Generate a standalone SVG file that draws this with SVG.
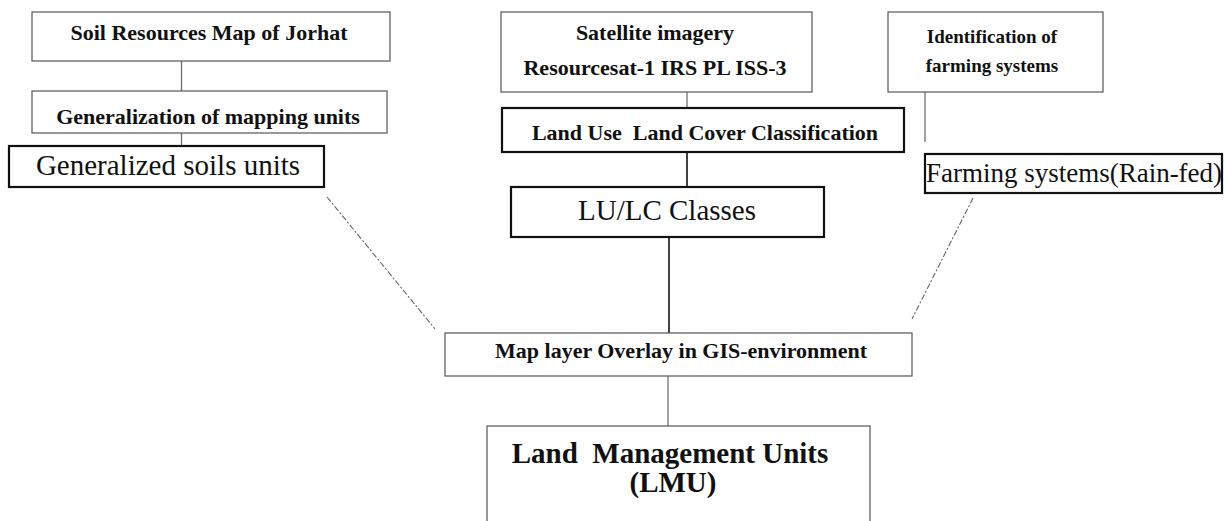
<svg xmlns="http://www.w3.org/2000/svg" width="1224" height="521" viewBox="0 0 1224 521">
<style>
  .thin { fill: #ffffff; stroke: #555555; stroke-width: 1.2; }
  .thick { fill: #ffffff; stroke: #111111; stroke-width: 2.2; }
  .b { font-family: "Liberation Serif", "Times New Roman", serif; font-weight: bold; fill: #111111; text-anchor: middle; }
  .r { font-family: "Liberation Serif", "Times New Roman", serif; fill: #111111; text-anchor: middle; }
  .c-grey { stroke: #666666; stroke-width: 1.2; fill: none; }
  .c-dash { stroke: #666666; stroke-width: 1.1; fill: none; stroke-dasharray: 6 2 2 2; }
  .c-black { stroke: #111111; stroke-width: 1.6; fill: none; }
</style>
<rect width="1224" height="521" fill="#ffffff"/>
<g id="connectors">
  <line class="c-grey" x1="181.5" y1="61" x2="181.5" y2="91"/>
  <line class="c-grey" x1="181.5" y1="133" x2="181.5" y2="146"/>
  <line class="c-grey" x1="687" y1="92" x2="687" y2="108"/>
  <line class="c-black" x1="687" y1="152" x2="687" y2="187"/>
  <line class="c-grey" x1="925" y1="92" x2="925" y2="142"/>
  <line class="c-black" x1="669" y1="237" x2="669" y2="333"/>
  <line class="c-grey" x1="668" y1="376" x2="668" y2="426"/>
  <line class="c-dash" x1="327" y1="197" x2="435" y2="329"/>
  <line class="c-dash" x1="973" y1="198" x2="912" y2="319"/>
</g>
<g id="soil-map">
  <rect class="thin" x="32" y="12" width="358" height="49"/>
  <text class="b" x="209" y="40" font-size="22">Soil Resources Map of Jorhat</text>
</g>
<g id="generalization">
  <rect class="thin" x="32" y="91" width="355" height="42"/>
  <text class="b" x="208" y="124" font-size="22">Generalization of mapping units</text>
</g>
<g id="generalized-soils">
  <rect class="thick" x="9" y="146" width="315" height="41"/>
  <text class="r" x="168" y="175" font-size="29">Generalized soils units</text>
</g>
<g id="satellite">
  <rect class="thin" x="501" y="12" width="311" height="80"/>
  <text class="b" x="655" y="40" font-size="22">Satellite imagery</text>
  <text class="b" x="655" y="75" font-size="22">Resourcesat-1 IRS PL ISS-3</text>
</g>
<g id="lulc-classification">
  <rect class="thick" x="502" y="108" width="402" height="44"/>
  <text class="b" x="705" y="140" font-size="22" style="white-space:pre">Land Use  Land Cover Classification</text>
</g>
<g id="lulc-classes">
  <rect class="thick" x="511" y="187" width="313" height="50"/>
  <text class="r" x="667" y="220" font-size="29">LU/LC Classes</text>
</g>
<g id="farming-id">
  <rect class="thin" x="888" y="12" width="215" height="80"/>
  <text class="b" x="992" y="43" font-size="19">Identification of</text>
  <text class="b" x="992" y="72" font-size="19">farming systems</text>
</g>
<g id="farming-systems">
  <rect class="thick" x="925" y="154" width="297" height="39"/>
  <text class="r" x="1074" y="182" font-size="27">Farming systems(Rain-fed)</text>
</g>
<g id="overlay">
  <rect class="thin" x="445" y="333" width="467" height="43"/>
  <text class="b" x="681" y="358" font-size="22">Map layer Overlay in GIS-environment</text>
</g>
<g id="lmu">
  <rect class="thin" x="487" y="426" width="383" height="110"/>
  <text class="b" x="670" y="463" font-size="29" style="white-space:pre">Land  Management Units</text>
  <text class="b" x="673" y="492" font-size="29">(LMU)</text>
</g>
</svg>
